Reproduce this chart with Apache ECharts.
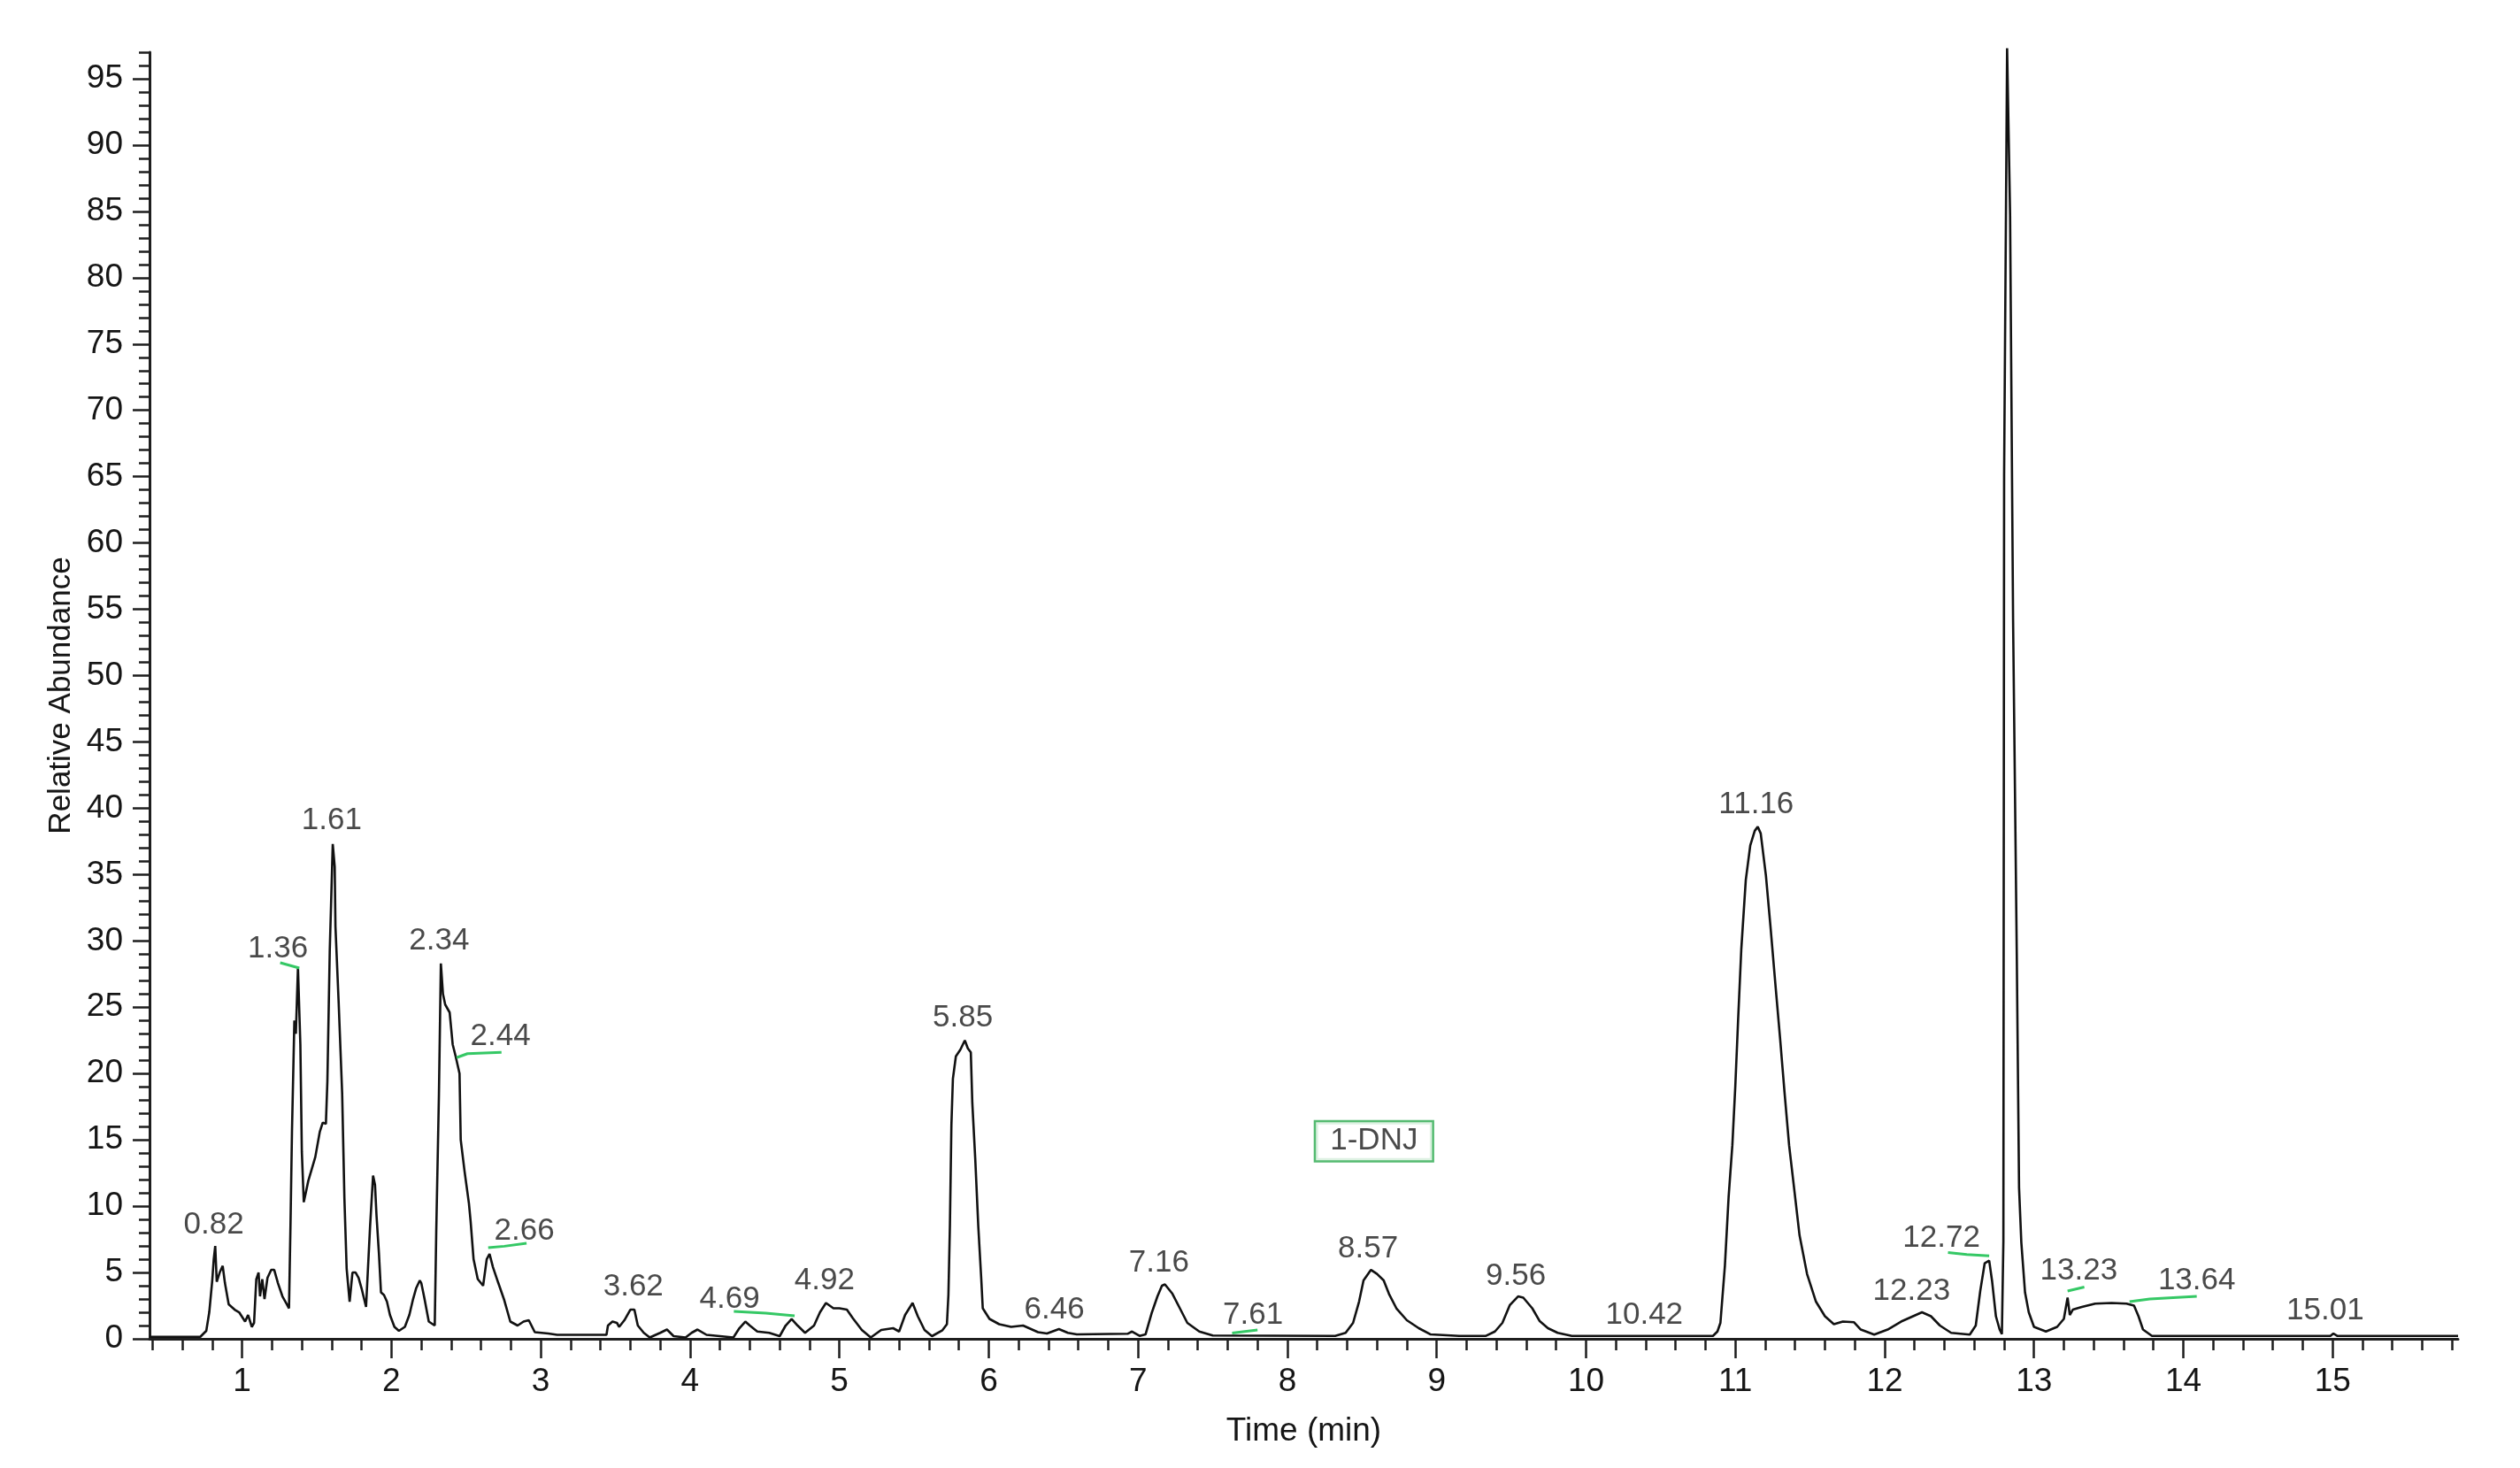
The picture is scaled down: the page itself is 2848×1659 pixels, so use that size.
<!DOCTYPE html>
<html>
<head>
<meta charset="utf-8">
<title>1-DNJ chromatogram</title>
<script src="https://cdn.jsdelivr.net/npm/echarts@6/dist/echarts.min.js"></script>
<style>
    html, body { margin: 0; padding: 0; background: #fff; }
    #chromatogram { width: 2848px; height: 1659px; }
</style>
</head>
<body>
<div id="chromatogram"></div>
<script>
// retention time (min) / relative abundance (%)
var times = [
    0.38, 0.72, 0.76, 0.78, 0.80, 0.81, 0.82, 0.83, 0.85, 0.87, 0.885, 0.91, 0.95, 0.98, 1.02, 1.04, 1.065, 1.08, 1.095, 1.11,
    1.12, 1.135, 1.15, 1.17, 1.195, 1.215, 1.24, 1.27, 1.30, 1.314, 1.324, 1.334, 1.35, 1.36, 1.374, 1.39, 1.40, 1.413, 1.443, 1.49,
    1.52, 1.54, 1.561, 1.571, 1.587, 1.607, 1.62, 1.625, 1.646, 1.67, 1.685, 1.70, 1.72, 1.739, 1.76, 1.78, 1.80, 1.83, 1.838, 1.857,
    1.877, 1.89, 1.90, 1.916, 1.93, 1.95, 1.97, 1.99, 2.02, 2.05, 2.09, 2.12, 2.145, 2.165, 2.19, 2.20, 2.22, 2.25, 2.29, 2.30,
    2.318, 2.331, 2.345, 2.36, 2.39, 2.41, 2.43, 2.456, 2.464, 2.49, 2.519, 2.53, 2.55, 2.578, 2.614, 2.638, 2.657, 2.68, 2.716, 2.756,
    2.796, 2.845, 2.885, 2.92, 2.96, 3.05, 3.11, 3.44, 3.45, 3.48, 3.51, 3.525, 3.56, 3.60, 3.627, 3.65, 3.69, 3.73, 3.80, 3.845,
    3.89, 3.97, 4.01, 4.05, 4.11, 4.29, 4.33, 4.37, 4.40, 4.45, 4.53, 4.60, 4.64, 4.68, 4.72, 4.77, 4.83, 4.87, 4.91, 4.96,
    5.00, 5.05, 5.09, 5.15, 5.21, 5.28, 5.36, 5.40, 5.44, 5.49, 5.525, 5.57, 5.62, 5.69, 5.72, 5.73, 5.74, 5.75, 5.76, 5.78,
    5.81, 5.84, 5.86, 5.88, 5.89, 5.91, 5.93, 5.95, 5.96, 6.005, 6.07, 6.15, 6.23, 6.27, 6.33, 6.39, 6.47, 6.53, 6.59, 6.93,
    6.96, 7.01, 7.05, 7.09, 7.13, 7.16, 7.18, 7.23, 7.28, 7.33, 7.41, 7.50, 8.32, 8.39, 8.44, 8.48, 8.51, 8.56, 8.60, 8.645,
    8.68, 8.73, 8.80, 8.88, 8.96, 9.15, 9.33, 9.39, 9.44, 9.49, 9.545, 9.58, 9.64, 9.69, 9.745, 9.81, 9.905, 10.85, 10.88, 10.90,
    10.93, 10.955, 10.98, 11.00, 11.018, 11.04, 11.07, 11.10, 11.13, 11.15, 11.17, 11.205, 11.236, 11.27, 11.30, 11.33, 11.36, 11.39, 11.43, 11.48,
    11.54, 11.60, 11.66, 11.72, 11.795, 11.84, 11.93, 12.02, 12.11, 12.19, 12.25, 12.31, 12.37, 12.445, 12.57, 12.61, 12.64, 12.67, 12.70, 12.72,
    12.745, 12.77, 12.785, 12.795, 12.80, 12.82, 12.84, 12.86, 12.885, 12.90, 12.915, 12.94, 12.965, 13.00, 13.08, 13.155, 13.20, 13.225, 13.24, 13.26,
    13.32, 13.41, 13.52, 13.62, 13.67, 13.70, 13.73, 13.79, 14.985, 15.005, 15.03, 15.84
];
var abundance = [
    0.15, 0.15, 0.6, 2.0, 4.4, 6.0, 7.0, 4.3, 5.0, 5.5, 4.2, 2.6, 2.2, 2.0, 1.3, 1.8, 0.9, 1.2, 4.5, 5.0,
    3.2, 4.5, 3.0, 4.6, 5.2, 5.2, 4.2, 3.2, 2.6, 2.3, 8.6, 15.7, 24.0, 23.0, 28.0, 22.2, 14.1, 10.3, 11.9, 13.7,
    15.6, 16.3, 16.2, 19.4, 29.3, 37.3, 35.6, 31.1, 25.5, 18.5, 10.6, 5.3, 2.8, 5.0, 5.0, 4.6, 3.8, 2.4, 2.3, 8.5,
    12.3, 11.6, 9.3, 6.5, 3.5, 3.3, 2.8, 1.8, 0.9, 0.6, 0.9, 1.8, 3.0, 3.8, 4.4, 4.2, 3.1, 1.3, 1.0, 8.0,
    18.4, 28.3, 26.0, 25.2, 24.6, 22.2, 21.3, 20.0, 15.0, 12.6, 10.2, 8.9, 6.0, 4.5, 4.0, 6.0, 6.4, 5.4, 4.2, 2.9,
    1.3, 1.0, 1.3, 1.4, 0.5, 0.4, 0.3, 0.3, 1.0, 1.3, 1.2, 0.9, 1.4, 2.2, 2.2, 1.0, 0.45, 0.1, 0.45, 0.7,
    0.2, 0.1, 0.45, 0.7, 0.3, 0.1, 0.8, 1.3, 1.0, 0.55, 0.45, 0.2, 1.0, 1.5, 1.0, 0.45, 1.0, 2.0, 2.7, 2.3,
    2.3, 2.2, 1.55, 0.67, 0.1, 0.67, 0.8, 0.55, 1.8, 2.7, 1.7, 0.67, 0.2, 0.65, 1.1, 3.3, 8.5, 16.1, 19.6, 21.3,
    21.8, 22.5, 21.9, 21.6, 17.8, 13.5, 8.5, 4.5, 2.3, 1.5, 1.1, 0.9, 1.0, 0.8, 0.5, 0.4, 0.73, 0.45, 0.33, 0.38,
    0.55, 0.22, 0.33, 1.9, 3.2, 4.0, 4.1, 3.4, 2.3, 1.2, 0.55, 0.25, 0.22, 0.45, 1.2, 2.8, 4.4, 5.2, 4.9, 4.4,
    3.4, 2.3, 1.4, 0.8, 0.33, 0.22, 0.22, 0.55, 1.2, 2.55, 3.2, 3.1, 2.3, 1.33, 0.8, 0.45, 0.22, 0.22, 0.55, 1.2,
    5.5, 10.7, 14.6, 19.1, 23.9, 29.4, 34.6, 37.2, 38.3, 38.6, 38.1, 34.9, 31.0, 26.5, 22.6, 18.5, 14.6, 11.7, 7.8, 4.9,
    2.8, 1.7, 1.1, 1.3, 1.25, 0.7, 0.32, 0.7, 1.3, 1.7, 2.0, 1.7, 1.0, 0.45, 0.32, 1.0, 3.6, 5.7, 5.9, 4.3,
    1.7, 0.7, 0.35, 7.3, 65.2, 97.3, 84.7, 54.2, 28.7, 11.4, 7.3, 3.5, 2.0, 0.9, 0.55, 0.9, 1.5, 3.1, 1.8, 2.2,
    2.4, 2.65, 2.7, 2.65, 2.5, 1.7, 0.7, 0.22, 0.22, 0.4, 0.22, 0.22
];

// peak labels: text, and where the software put it (time, abundance)
var peakLabels = ['0.82', '1.36', '1.61', '2.34', '2.44', '2.66', '3.62', '4.69', '4.92', '5.85', '6.46',
    '7.16', '7.61', '8.57', '9.56', '10.42', '11.16', '12.23', '12.72', '13.23', '13.64', '15.01'];
var peakLabelTime = [0.81, 1.24, 1.60, 2.32, 2.73, 2.89, 3.62, 4.265, 4.90, 5.826, 6.44,
    7.14, 7.77, 8.54, 9.53, 10.39, 11.14, 12.18, 12.38, 13.30, 14.09, 14.95];
var peakLabelAbund = [8.6, 29.4, 39.1, 30.0, 22.8, 8.1, 3.9, 3.0, 4.4, 24.2, 2.2,
    5.7, 1.8, 6.8, 4.7, 1.8, 40.3, 3.6, 7.6, 5.1, 4.4, 2.1];

// green leader lines under some labels
var leaderLines = [
    [[1.255, 28.35], [1.383, 27.95]],
    [[2.436, 21.2], [2.509, 21.5], [2.737, 21.6]],
    [[2.648, 6.87], [2.756, 6.98], [2.905, 7.2]],
    [[4.293, 2.07], [4.507, 1.93], [4.70, 1.73]],
    [[7.63, 0.44], [7.80, 0.67]],
    [[12.424, 6.5], [12.55, 6.35], [12.70, 6.26]],
    [[13.225, 3.6], [13.337, 3.9]],
    [[13.64, 2.8], [13.775, 3.0], [14.09, 3.2]]
];

var compoundTag = { text: '1-DNJ', time: 8.58, abundance: 14.9 };

var xTicks = [1, 2, 3, 4, 5, 6, 7, 8, 9, 10, 11, 12, 13, 14, 15];
var yTicks = [0, 5, 10, 15, 20, 25, 30, 35, 40, 45, 50, 55, 60, 65, 70, 75, 80, 85, 90, 95];

var xMin = 0.38, xMax = 15.84;
var yMin = 0, yMax = 97;

var xMinorTicks = [];
for (var i = 2; i * 0.2 <= xMax; i++)
    xMinorTicks.push(Math.round(i * 0.2 * 10) / 10);

var fontFamily = '"Liberation Sans", Arial, sans-serif';
var axisColor = '#1e1e1e';
var textColor = '#151515';

var trace = times.map(function (t, i) { return [t, abundance[i]]; });

var seriesList = [];
seriesList.push({
    type: 'line',
    name: 'TIC',
    data: trace,
    showSymbol: false,
    symbol: 'none',
    clip: false,
    lineStyle: { color: '#111', width: 2.6 },
    z: 3
});

leaderLines.forEach(function (pts) {
    seriesList.push({
        type: 'line',
        data: pts,
        symbol: 'none',
        silent: true,
        lineStyle: { color: '#35c865', width: 3 },
        z: 4
    });
});

seriesList.push({
    type: 'scatter',
    data: peakLabels.map(function (txt, i) {
        return { name: txt, value: [peakLabelTime[i], peakLabelAbund[i]] };
    }),
    symbolSize: 1,
    itemStyle: { color: 'rgba(0,0,0,0)' },
    silent: true,
    label: {
        show: true,
        position: 'inside',
        formatter: '{b}',
        fontFamily: fontFamily,
        fontSize: 35,
        color: '#1c1c1c'
    },
    z: 5
});

seriesList.push({
    type: 'scatter',
    data: [{ name: compoundTag.text, value: [compoundTag.time, compoundTag.abundance] }],
    symbolSize: 1,
    itemStyle: { color: 'rgba(0,0,0,0)' },
    silent: true,
    label: {
        show: true,
        position: 'inside',
        formatter: '{b}',
        fontFamily: fontFamily,
        fontSize: 35,
        color: '#1c1c1c',
        borderColor: '#2aaa4e',
        borderWidth: 2.5,
        padding: [5, 16, 3, 16],
        backgroundColor: '#fff'
    },
    z: 5
});

var chart = echarts.init(document.getElementById('chromatogram'), null, { renderer: 'canvas' });
var option = {
    backgroundColor: '#fff',
    animation: false,
    grid: {
        left: 169,
        top: 59,
        right: 70,
        bottom: 146,
        containLabel: false,
        outerBoundsMode: 'none'
    },
    xAxis: [
        {
            type: 'value',
            min: xMin,
            max: xMax,
            position: 'bottom',
            name: 'Time (min)',
            nameLocation: 'middle',
            nameGap: 86,
            nameTextStyle: { fontFamily: fontFamily, fontSize: 37, color: textColor },
            axisLine: { show: true, onZero: false, lineStyle: { color: axisColor, width: 3 } },
            axisTick: { show: true, customValues: xTicks, length: 22, lineStyle: { color: axisColor, width: 2.5 } },
            axisLabel: { customValues: xTicks, margin: 30, fontFamily: fontFamily, fontSize: 37, color: textColor },
            splitLine: { show: false }
        },
        {
            type: 'value',
            min: xMin,
            max: xMax,
            position: 'bottom',
            axisLine: { show: false, onZero: false },
            axisTick: { show: true, customValues: xMinorTicks, length: 13, lineStyle: { color: axisColor, width: 2.5 } },
            axisLabel: { show: false },
            splitLine: { show: false }
        }
    ],
    yAxis: [
        {
            type: 'value',
            min: yMin,
            max: yMax,
            position: 'left',
            name: 'Relative Abundance',
            nameLocation: 'middle',
            nameRotate: 90,
            nameGap: 80,
            nameTextStyle: { fontFamily: fontFamily, fontSize: 35, color: textColor },
            axisLine: { show: true, onZero: false, lineStyle: { color: axisColor, width: 3 } },
            axisTick: { show: true, customValues: yTicks, length: 19, lineStyle: { color: axisColor, width: 2.5 } },
            axisLabel: { customValues: yTicks, margin: 30, fontFamily: fontFamily, fontSize: 37, color: textColor },
            splitLine: { show: false }
        },
        {
            type: 'value',
            min: yMin,
            max: yMax,
            interval: 1,
            position: 'left',
            axisLine: { show: false, onZero: false },
            axisTick: { show: true, length: 12, lineStyle: { color: axisColor, width: 2.5 } },
            axisLabel: { show: false },
            splitLine: { show: false }
        }
    ],
    series: seriesList
};

chart.setOption(option, true);

window.addEventListener('resize', function () {
    chart.resize();
});
</script>
</body>
</html>
